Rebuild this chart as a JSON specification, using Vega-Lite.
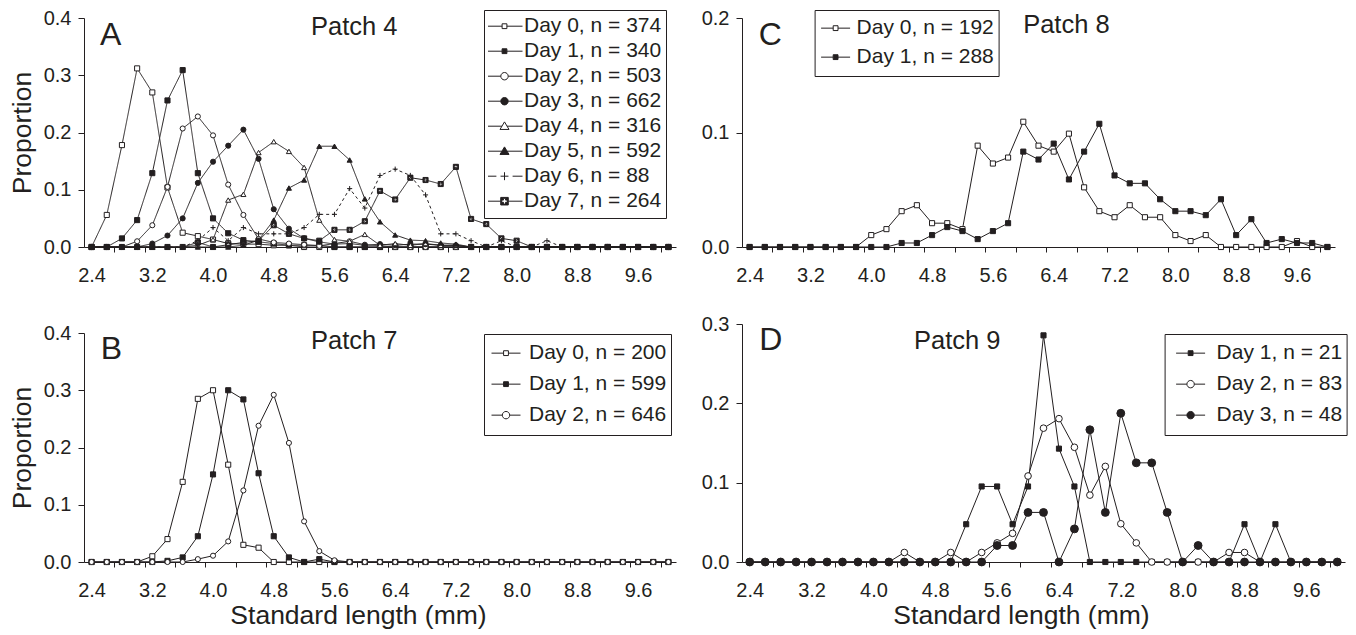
{
"$schema":"https://vega.github.io/schema/vega-lite/v6.json",
"background":"white",
"padding":{"left":9,"top":8,"right":2,"bottom":2},
"config":{
 "font":"Liberation Sans",
 "view":{"stroke":null},
 "axis":{"grid":false,"domainColor":"#231f20","tickColor":"#231f20","labelColor":"#231f20","titleColor":"#231f20","labelFontSize":20,"titleFontSize":26.5,"titleFontWeight":"normal","domainWidth":1,"tickWidth":1,"labelFlush":false},
 "axisX":{"tickSize":5,"labelPadding":18,"titlePadding":2},
 "axisY":{"tickSize":6,"labelPadding":7,"titlePadding":7},
 "legend":{"strokeColor":"#231f20","fillColor":"white","labelFontSize":21,"labelColor":"#231f20","symbolStrokeWidth":1,"rowPadding":0,"padding":4,"symbolStrokeColor":"#231f20","symbolFillColor":"white","symbolOpacity":1},
 "text":{"color":"#231f20"}
},
"datasets":{
"patch4":[
{"day":"Day 0, n = 374","length":2.4,"prop":0},{"day":"Day 0, n = 374","length":2.6,"prop":0.056},{"day":"Day 0, n = 374","length":2.8,"prop":0.178},{"day":"Day 0, n = 374","length":3,"prop":0.312},{"day":"Day 0, n = 374","length":3.2,"prop":0.27},{"day":"Day 0, n = 374","length":3.4,"prop":0.104},{"day":"Day 0, n = 374","length":3.6,"prop":0.025},{"day":"Day 0, n = 374","length":3.8,"prop":0.019},{"day":"Day 0, n = 374","length":4,"prop":0.013},{"day":"Day 0, n = 374","length":4.2,"prop":0.006},{"day":"Day 0, n = 374","length":4.4,"prop":0.005},{"day":"Day 0, n = 374","length":4.6,"prop":0.005},{"day":"Day 0, n = 374","length":4.8,"prop":0.003},{"day":"Day 0, n = 374","length":5,"prop":0.003},{"day":"Day 0, n = 374","length":5.2,"prop":0},{"day":"Day 0, n = 374","length":5.4,"prop":0},{"day":"Day 0, n = 374","length":5.6,"prop":0},{"day":"Day 0, n = 374","length":5.8,"prop":0},{"day":"Day 0, n = 374","length":6,"prop":0},{"day":"Day 0, n = 374","length":6.2,"prop":0},{"day":"Day 0, n = 374","length":6.4,"prop":0},{"day":"Day 0, n = 374","length":6.6,"prop":0},{"day":"Day 0, n = 374","length":6.8,"prop":0},{"day":"Day 0, n = 374","length":7,"prop":0},{"day":"Day 0, n = 374","length":7.2,"prop":0},{"day":"Day 0, n = 374","length":7.4,"prop":0},{"day":"Day 0, n = 374","length":7.6,"prop":0},{"day":"Day 0, n = 374","length":7.8,"prop":0},{"day":"Day 0, n = 374","length":8,"prop":0},{"day":"Day 0, n = 374","length":8.2,"prop":0},{"day":"Day 0, n = 374","length":8.4,"prop":0},{"day":"Day 0, n = 374","length":8.6,"prop":0},{"day":"Day 0, n = 374","length":8.8,"prop":0},{"day":"Day 0, n = 374","length":9,"prop":0},{"day":"Day 0, n = 374","length":9.2,"prop":0},{"day":"Day 0, n = 374","length":9.4,"prop":0},{"day":"Day 0, n = 374","length":9.6,"prop":0},{"day":"Day 0, n = 374","length":9.8,"prop":0},{"day":"Day 0, n = 374","length":10,"prop":0},
{"day":"Day 1, n = 340","length":2.4,"prop":0},{"day":"Day 1, n = 340","length":2.6,"prop":0},{"day":"Day 1, n = 340","length":2.8,"prop":0.015},{"day":"Day 1, n = 340","length":3,"prop":0.047},{"day":"Day 1, n = 340","length":3.2,"prop":0.129},{"day":"Day 1, n = 340","length":3.4,"prop":0.256},{"day":"Day 1, n = 340","length":3.6,"prop":0.309},{"day":"Day 1, n = 340","length":3.8,"prop":0.129},{"day":"Day 1, n = 340","length":4,"prop":0.05},{"day":"Day 1, n = 340","length":4.2,"prop":0.024},{"day":"Day 1, n = 340","length":4.4,"prop":0.012},{"day":"Day 1, n = 340","length":4.6,"prop":0.009},{"day":"Day 1, n = 340","length":4.8,"prop":0.006},{"day":"Day 1, n = 340","length":5,"prop":0.003},{"day":"Day 1, n = 340","length":5.2,"prop":0.003},{"day":"Day 1, n = 340","length":5.4,"prop":0.003},{"day":"Day 1, n = 340","length":5.6,"prop":0},{"day":"Day 1, n = 340","length":5.8,"prop":0},{"day":"Day 1, n = 340","length":6,"prop":0},{"day":"Day 1, n = 340","length":6.2,"prop":0},{"day":"Day 1, n = 340","length":6.4,"prop":0},{"day":"Day 1, n = 340","length":6.6,"prop":0},{"day":"Day 1, n = 340","length":6.8,"prop":0},{"day":"Day 1, n = 340","length":7,"prop":0},{"day":"Day 1, n = 340","length":7.2,"prop":0},{"day":"Day 1, n = 340","length":7.4,"prop":0},{"day":"Day 1, n = 340","length":7.6,"prop":0},{"day":"Day 1, n = 340","length":7.8,"prop":0},{"day":"Day 1, n = 340","length":8,"prop":0},{"day":"Day 1, n = 340","length":8.2,"prop":0},{"day":"Day 1, n = 340","length":8.4,"prop":0},{"day":"Day 1, n = 340","length":8.6,"prop":0},{"day":"Day 1, n = 340","length":8.8,"prop":0},{"day":"Day 1, n = 340","length":9,"prop":0},{"day":"Day 1, n = 340","length":9.2,"prop":0},{"day":"Day 1, n = 340","length":9.4,"prop":0},{"day":"Day 1, n = 340","length":9.6,"prop":0},{"day":"Day 1, n = 340","length":9.8,"prop":0},{"day":"Day 1, n = 340","length":10,"prop":0},
{"day":"Day 2, n = 503","length":2.4,"prop":0},{"day":"Day 2, n = 503","length":2.6,"prop":0},{"day":"Day 2, n = 503","length":2.8,"prop":0},{"day":"Day 2, n = 503","length":3,"prop":0.01},{"day":"Day 2, n = 503","length":3.2,"prop":0.038},{"day":"Day 2, n = 503","length":3.4,"prop":0.105},{"day":"Day 2, n = 503","length":3.6,"prop":0.207},{"day":"Day 2, n = 503","length":3.8,"prop":0.228},{"day":"Day 2, n = 503","length":4,"prop":0.195},{"day":"Day 2, n = 503","length":4.2,"prop":0.109},{"day":"Day 2, n = 503","length":4.4,"prop":0.056},{"day":"Day 2, n = 503","length":4.6,"prop":0.014},{"day":"Day 2, n = 503","length":4.8,"prop":0.008},{"day":"Day 2, n = 503","length":5,"prop":0.006},{"day":"Day 2, n = 503","length":5.2,"prop":0.004},{"day":"Day 2, n = 503","length":5.4,"prop":0.002},{"day":"Day 2, n = 503","length":5.6,"prop":0.006},{"day":"Day 2, n = 503","length":5.8,"prop":0.01},{"day":"Day 2, n = 503","length":6,"prop":0.004},{"day":"Day 2, n = 503","length":6.2,"prop":0.002},{"day":"Day 2, n = 503","length":6.4,"prop":0},{"day":"Day 2, n = 503","length":6.6,"prop":0},{"day":"Day 2, n = 503","length":6.8,"prop":0},{"day":"Day 2, n = 503","length":7,"prop":0},{"day":"Day 2, n = 503","length":7.2,"prop":0},{"day":"Day 2, n = 503","length":7.4,"prop":0},{"day":"Day 2, n = 503","length":7.6,"prop":0},{"day":"Day 2, n = 503","length":7.8,"prop":0},{"day":"Day 2, n = 503","length":8,"prop":0},{"day":"Day 2, n = 503","length":8.2,"prop":0},{"day":"Day 2, n = 503","length":8.4,"prop":0},{"day":"Day 2, n = 503","length":8.6,"prop":0},{"day":"Day 2, n = 503","length":8.8,"prop":0},{"day":"Day 2, n = 503","length":9,"prop":0},{"day":"Day 2, n = 503","length":9.2,"prop":0},{"day":"Day 2, n = 503","length":9.4,"prop":0},{"day":"Day 2, n = 503","length":9.6,"prop":0},{"day":"Day 2, n = 503","length":9.8,"prop":0},{"day":"Day 2, n = 503","length":10,"prop":0},
{"day":"Day 3, n = 662","length":2.4,"prop":0},{"day":"Day 3, n = 662","length":2.6,"prop":0},{"day":"Day 3, n = 662","length":2.8,"prop":0},{"day":"Day 3, n = 662","length":3,"prop":0},{"day":"Day 3, n = 662","length":3.2,"prop":0.006},{"day":"Day 3, n = 662","length":3.4,"prop":0.02},{"day":"Day 3, n = 662","length":3.6,"prop":0.05},{"day":"Day 3, n = 662","length":3.8,"prop":0.112},{"day":"Day 3, n = 662","length":4,"prop":0.149},{"day":"Day 3, n = 662","length":4.2,"prop":0.177},{"day":"Day 3, n = 662","length":4.4,"prop":0.205},{"day":"Day 3, n = 662","length":4.6,"prop":0.154},{"day":"Day 3, n = 662","length":4.8,"prop":0.066},{"day":"Day 3, n = 662","length":5,"prop":0.032},{"day":"Day 3, n = 662","length":5.2,"prop":0.015},{"day":"Day 3, n = 662","length":5.4,"prop":0.009},{"day":"Day 3, n = 662","length":5.6,"prop":0.005},{"day":"Day 3, n = 662","length":5.8,"prop":0.006},{"day":"Day 3, n = 662","length":6,"prop":0.003},{"day":"Day 3, n = 662","length":6.2,"prop":0.005},{"day":"Day 3, n = 662","length":6.4,"prop":0.003},{"day":"Day 3, n = 662","length":6.6,"prop":0.005},{"day":"Day 3, n = 662","length":6.8,"prop":0.005},{"day":"Day 3, n = 662","length":7,"prop":0.003},{"day":"Day 3, n = 662","length":7.2,"prop":0.003},{"day":"Day 3, n = 662","length":7.4,"prop":0},{"day":"Day 3, n = 662","length":7.6,"prop":0},{"day":"Day 3, n = 662","length":7.8,"prop":0},{"day":"Day 3, n = 662","length":8,"prop":0},{"day":"Day 3, n = 662","length":8.2,"prop":0},{"day":"Day 3, n = 662","length":8.4,"prop":0},{"day":"Day 3, n = 662","length":8.6,"prop":0},{"day":"Day 3, n = 662","length":8.8,"prop":0},{"day":"Day 3, n = 662","length":9,"prop":0},{"day":"Day 3, n = 662","length":9.2,"prop":0},{"day":"Day 3, n = 662","length":9.4,"prop":0},{"day":"Day 3, n = 662","length":9.6,"prop":0},{"day":"Day 3, n = 662","length":9.8,"prop":0},{"day":"Day 3, n = 662","length":10,"prop":0},
{"day":"Day 4, n = 316","length":2.4,"prop":0},{"day":"Day 4, n = 316","length":2.6,"prop":0},{"day":"Day 4, n = 316","length":2.8,"prop":0},{"day":"Day 4, n = 316","length":3,"prop":0},{"day":"Day 4, n = 316","length":3.2,"prop":0},{"day":"Day 4, n = 316","length":3.4,"prop":0},{"day":"Day 4, n = 316","length":3.6,"prop":0},{"day":"Day 4, n = 316","length":3.8,"prop":0.003},{"day":"Day 4, n = 316","length":4,"prop":0.013},{"day":"Day 4, n = 316","length":4.2,"prop":0.082},{"day":"Day 4, n = 316","length":4.4,"prop":0.092},{"day":"Day 4, n = 316","length":4.6,"prop":0.165},{"day":"Day 4, n = 316","length":4.8,"prop":0.184},{"day":"Day 4, n = 316","length":5,"prop":0.167},{"day":"Day 4, n = 316","length":5.2,"prop":0.139},{"day":"Day 4, n = 316","length":5.4,"prop":0.047},{"day":"Day 4, n = 316","length":5.6,"prop":0.013},{"day":"Day 4, n = 316","length":5.8,"prop":0.01},{"day":"Day 4, n = 316","length":6,"prop":0.022},{"day":"Day 4, n = 316","length":6.2,"prop":0.003},{"day":"Day 4, n = 316","length":6.4,"prop":0.006},{"day":"Day 4, n = 316","length":6.6,"prop":0.003},{"day":"Day 4, n = 316","length":6.8,"prop":0.006},{"day":"Day 4, n = 316","length":7,"prop":0.003},{"day":"Day 4, n = 316","length":7.2,"prop":0.003},{"day":"Day 4, n = 316","length":7.4,"prop":0},{"day":"Day 4, n = 316","length":7.6,"prop":0},{"day":"Day 4, n = 316","length":7.8,"prop":0},{"day":"Day 4, n = 316","length":8,"prop":0},{"day":"Day 4, n = 316","length":8.2,"prop":0},{"day":"Day 4, n = 316","length":8.4,"prop":0},{"day":"Day 4, n = 316","length":8.6,"prop":0},{"day":"Day 4, n = 316","length":8.8,"prop":0},{"day":"Day 4, n = 316","length":9,"prop":0},{"day":"Day 4, n = 316","length":9.2,"prop":0},{"day":"Day 4, n = 316","length":9.4,"prop":0},{"day":"Day 4, n = 316","length":9.6,"prop":0},{"day":"Day 4, n = 316","length":9.8,"prop":0},{"day":"Day 4, n = 316","length":10,"prop":0},
{"day":"Day 5, n = 592","length":2.4,"prop":0},{"day":"Day 5, n = 592","length":2.6,"prop":0},{"day":"Day 5, n = 592","length":2.8,"prop":0},{"day":"Day 5, n = 592","length":3,"prop":0},{"day":"Day 5, n = 592","length":3.2,"prop":0},{"day":"Day 5, n = 592","length":3.4,"prop":0},{"day":"Day 5, n = 592","length":3.6,"prop":0},{"day":"Day 5, n = 592","length":3.8,"prop":0},{"day":"Day 5, n = 592","length":4,"prop":0},{"day":"Day 5, n = 592","length":4.2,"prop":0},{"day":"Day 5, n = 592","length":4.4,"prop":0.003},{"day":"Day 5, n = 592","length":4.6,"prop":0.012},{"day":"Day 5, n = 592","length":4.8,"prop":0.047},{"day":"Day 5, n = 592","length":5,"prop":0.103},{"day":"Day 5, n = 592","length":5.2,"prop":0.117},{"day":"Day 5, n = 592","length":5.4,"prop":0.176},{"day":"Day 5, n = 592","length":5.6,"prop":0.176},{"day":"Day 5, n = 592","length":5.8,"prop":0.152},{"day":"Day 5, n = 592","length":6,"prop":0.084},{"day":"Day 5, n = 592","length":6.2,"prop":0.044},{"day":"Day 5, n = 592","length":6.4,"prop":0.021},{"day":"Day 5, n = 592","length":6.6,"prop":0.012},{"day":"Day 5, n = 592","length":6.8,"prop":0.011},{"day":"Day 5, n = 592","length":7,"prop":0.007},{"day":"Day 5, n = 592","length":7.2,"prop":0.005},{"day":"Day 5, n = 592","length":7.4,"prop":0},{"day":"Day 5, n = 592","length":7.6,"prop":0},{"day":"Day 5, n = 592","length":7.8,"prop":0},{"day":"Day 5, n = 592","length":8,"prop":0},{"day":"Day 5, n = 592","length":8.2,"prop":0},{"day":"Day 5, n = 592","length":8.4,"prop":0},{"day":"Day 5, n = 592","length":8.6,"prop":0},{"day":"Day 5, n = 592","length":8.8,"prop":0},{"day":"Day 5, n = 592","length":9,"prop":0},{"day":"Day 5, n = 592","length":9.2,"prop":0},{"day":"Day 5, n = 592","length":9.4,"prop":0},{"day":"Day 5, n = 592","length":9.6,"prop":0},{"day":"Day 5, n = 592","length":9.8,"prop":0},{"day":"Day 5, n = 592","length":10,"prop":0},
{"day":"Day 6, n = 88","length":2.4,"prop":0},{"day":"Day 6, n = 88","length":2.6,"prop":0},{"day":"Day 6, n = 88","length":2.8,"prop":0},{"day":"Day 6, n = 88","length":3,"prop":0},{"day":"Day 6, n = 88","length":3.2,"prop":0},{"day":"Day 6, n = 88","length":3.4,"prop":0},{"day":"Day 6, n = 88","length":3.6,"prop":0},{"day":"Day 6, n = 88","length":3.8,"prop":0.011},{"day":"Day 6, n = 88","length":4,"prop":0.034},{"day":"Day 6, n = 88","length":4.2,"prop":0.011},{"day":"Day 6, n = 88","length":4.4,"prop":0.034},{"day":"Day 6, n = 88","length":4.6,"prop":0.023},{"day":"Day 6, n = 88","length":4.8,"prop":0.023},{"day":"Day 6, n = 88","length":5,"prop":0.023},{"day":"Day 6, n = 88","length":5.2,"prop":0.034},{"day":"Day 6, n = 88","length":5.4,"prop":0.057},{"day":"Day 6, n = 88","length":5.6,"prop":0.057},{"day":"Day 6, n = 88","length":5.8,"prop":0.102},{"day":"Day 6, n = 88","length":6,"prop":0.068},{"day":"Day 6, n = 88","length":6.2,"prop":0.125},{"day":"Day 6, n = 88","length":6.4,"prop":0.136},{"day":"Day 6, n = 88","length":6.6,"prop":0.125},{"day":"Day 6, n = 88","length":6.8,"prop":0.091},{"day":"Day 6, n = 88","length":7,"prop":0.023},{"day":"Day 6, n = 88","length":7.2,"prop":0.023},{"day":"Day 6, n = 88","length":7.4,"prop":0.011},{"day":"Day 6, n = 88","length":7.6,"prop":0},{"day":"Day 6, n = 88","length":7.8,"prop":0.011},{"day":"Day 6, n = 88","length":8,"prop":0},{"day":"Day 6, n = 88","length":8.2,"prop":0},{"day":"Day 6, n = 88","length":8.4,"prop":0.011},{"day":"Day 6, n = 88","length":8.6,"prop":0},{"day":"Day 6, n = 88","length":8.8,"prop":0},{"day":"Day 6, n = 88","length":9,"prop":0},{"day":"Day 6, n = 88","length":9.2,"prop":0},{"day":"Day 6, n = 88","length":9.4,"prop":0},{"day":"Day 6, n = 88","length":9.6,"prop":0},{"day":"Day 6, n = 88","length":9.8,"prop":0},{"day":"Day 6, n = 88","length":10,"prop":0},
{"day":"Day 7, n = 264","length":2.4,"prop":0},{"day":"Day 7, n = 264","length":2.6,"prop":0},{"day":"Day 7, n = 264","length":2.8,"prop":0},{"day":"Day 7, n = 264","length":3,"prop":0},{"day":"Day 7, n = 264","length":3.2,"prop":0},{"day":"Day 7, n = 264","length":3.4,"prop":0},{"day":"Day 7, n = 264","length":3.6,"prop":0},{"day":"Day 7, n = 264","length":3.8,"prop":0.008},{"day":"Day 7, n = 264","length":4,"prop":0},{"day":"Day 7, n = 264","length":4.2,"prop":0.004},{"day":"Day 7, n = 264","length":4.4,"prop":0.008},{"day":"Day 7, n = 264","length":4.6,"prop":0.011},{"day":"Day 7, n = 264","length":4.8,"prop":0.038},{"day":"Day 7, n = 264","length":5,"prop":0.023},{"day":"Day 7, n = 264","length":5.2,"prop":0.015},{"day":"Day 7, n = 264","length":5.4,"prop":0.011},{"day":"Day 7, n = 264","length":5.6,"prop":0.03},{"day":"Day 7, n = 264","length":5.8,"prop":0.03},{"day":"Day 7, n = 264","length":6,"prop":0.045},{"day":"Day 7, n = 264","length":6.2,"prop":0.098},{"day":"Day 7, n = 264","length":6.4,"prop":0.083},{"day":"Day 7, n = 264","length":6.6,"prop":0.121},{"day":"Day 7, n = 264","length":6.8,"prop":0.117},{"day":"Day 7, n = 264","length":7,"prop":0.11},{"day":"Day 7, n = 264","length":7.2,"prop":0.14},{"day":"Day 7, n = 264","length":7.4,"prop":0.049},{"day":"Day 7, n = 264","length":7.6,"prop":0.04},{"day":"Day 7, n = 264","length":7.8,"prop":0.015},{"day":"Day 7, n = 264","length":8,"prop":0.011},{"day":"Day 7, n = 264","length":8.2,"prop":0},{"day":"Day 7, n = 264","length":8.4,"prop":0},{"day":"Day 7, n = 264","length":8.6,"prop":0},{"day":"Day 7, n = 264","length":8.8,"prop":0},{"day":"Day 7, n = 264","length":9,"prop":0},{"day":"Day 7, n = 264","length":9.2,"prop":0},{"day":"Day 7, n = 264","length":9.4,"prop":0},{"day":"Day 7, n = 264","length":9.6,"prop":0},{"day":"Day 7, n = 264","length":9.8,"prop":0},{"day":"Day 7, n = 264","length":10,"prop":0}
],
"patch7":[
{"day":"Day 0, n = 200","length":2.4,"prop":0},{"day":"Day 0, n = 200","length":2.6,"prop":0},{"day":"Day 0, n = 200","length":2.8,"prop":0},{"day":"Day 0, n = 200","length":3,"prop":0},{"day":"Day 0, n = 200","length":3.2,"prop":0.01},{"day":"Day 0, n = 200","length":3.4,"prop":0.04},{"day":"Day 0, n = 200","length":3.6,"prop":0.14},{"day":"Day 0, n = 200","length":3.8,"prop":0.285},{"day":"Day 0, n = 200","length":4,"prop":0.3},{"day":"Day 0, n = 200","length":4.2,"prop":0.17},{"day":"Day 0, n = 200","length":4.4,"prop":0.03},{"day":"Day 0, n = 200","length":4.6,"prop":0.025},{"day":"Day 0, n = 200","length":4.8,"prop":0},{"day":"Day 0, n = 200","length":5,"prop":0},{"day":"Day 0, n = 200","length":5.2,"prop":0},{"day":"Day 0, n = 200","length":5.4,"prop":0},{"day":"Day 0, n = 200","length":5.6,"prop":0},{"day":"Day 0, n = 200","length":5.8,"prop":0},{"day":"Day 0, n = 200","length":6,"prop":0},{"day":"Day 0, n = 200","length":6.2,"prop":0},{"day":"Day 0, n = 200","length":6.4,"prop":0},{"day":"Day 0, n = 200","length":6.6,"prop":0},{"day":"Day 0, n = 200","length":6.8,"prop":0},{"day":"Day 0, n = 200","length":7,"prop":0},{"day":"Day 0, n = 200","length":7.2,"prop":0},{"day":"Day 0, n = 200","length":7.4,"prop":0},{"day":"Day 0, n = 200","length":7.6,"prop":0},{"day":"Day 0, n = 200","length":7.8,"prop":0},{"day":"Day 0, n = 200","length":8,"prop":0},{"day":"Day 0, n = 200","length":8.2,"prop":0},{"day":"Day 0, n = 200","length":8.4,"prop":0},{"day":"Day 0, n = 200","length":8.6,"prop":0},{"day":"Day 0, n = 200","length":8.8,"prop":0},{"day":"Day 0, n = 200","length":9,"prop":0},{"day":"Day 0, n = 200","length":9.2,"prop":0},{"day":"Day 0, n = 200","length":9.4,"prop":0},{"day":"Day 0, n = 200","length":9.6,"prop":0},{"day":"Day 0, n = 200","length":9.8,"prop":0},{"day":"Day 0, n = 200","length":10,"prop":0},
{"day":"Day 1, n = 599","length":2.4,"prop":0},{"day":"Day 1, n = 599","length":2.6,"prop":0},{"day":"Day 1, n = 599","length":2.8,"prop":0},{"day":"Day 1, n = 599","length":3,"prop":0},{"day":"Day 1, n = 599","length":3.2,"prop":0},{"day":"Day 1, n = 599","length":3.4,"prop":0.002},{"day":"Day 1, n = 599","length":3.6,"prop":0.008},{"day":"Day 1, n = 599","length":3.8,"prop":0.045},{"day":"Day 1, n = 599","length":4,"prop":0.153},{"day":"Day 1, n = 599","length":4.2,"prop":0.3},{"day":"Day 1, n = 599","length":4.4,"prop":0.284},{"day":"Day 1, n = 599","length":4.6,"prop":0.155},{"day":"Day 1, n = 599","length":4.8,"prop":0.045},{"day":"Day 1, n = 599","length":5,"prop":0.008},{"day":"Day 1, n = 599","length":5.2,"prop":0},{"day":"Day 1, n = 599","length":5.4,"prop":0.005},{"day":"Day 1, n = 599","length":5.6,"prop":0},{"day":"Day 1, n = 599","length":5.8,"prop":0},{"day":"Day 1, n = 599","length":6,"prop":0},{"day":"Day 1, n = 599","length":6.2,"prop":0},{"day":"Day 1, n = 599","length":6.4,"prop":0},{"day":"Day 1, n = 599","length":6.6,"prop":0},{"day":"Day 1, n = 599","length":6.8,"prop":0},{"day":"Day 1, n = 599","length":7,"prop":0},{"day":"Day 1, n = 599","length":7.2,"prop":0},{"day":"Day 1, n = 599","length":7.4,"prop":0},{"day":"Day 1, n = 599","length":7.6,"prop":0},{"day":"Day 1, n = 599","length":7.8,"prop":0},{"day":"Day 1, n = 599","length":8,"prop":0},{"day":"Day 1, n = 599","length":8.2,"prop":0},{"day":"Day 1, n = 599","length":8.4,"prop":0},{"day":"Day 1, n = 599","length":8.6,"prop":0},{"day":"Day 1, n = 599","length":8.8,"prop":0},{"day":"Day 1, n = 599","length":9,"prop":0},{"day":"Day 1, n = 599","length":9.2,"prop":0},{"day":"Day 1, n = 599","length":9.4,"prop":0},{"day":"Day 1, n = 599","length":9.6,"prop":0},{"day":"Day 1, n = 599","length":9.8,"prop":0},{"day":"Day 1, n = 599","length":10,"prop":0},
{"day":"Day 2, n = 646","length":2.4,"prop":0},{"day":"Day 2, n = 646","length":2.6,"prop":0},{"day":"Day 2, n = 646","length":2.8,"prop":0},{"day":"Day 2, n = 646","length":3,"prop":0},{"day":"Day 2, n = 646","length":3.2,"prop":0},{"day":"Day 2, n = 646","length":3.4,"prop":0},{"day":"Day 2, n = 646","length":3.6,"prop":0},{"day":"Day 2, n = 646","length":3.8,"prop":0.005},{"day":"Day 2, n = 646","length":4,"prop":0.011},{"day":"Day 2, n = 646","length":4.2,"prop":0.036},{"day":"Day 2, n = 646","length":4.4,"prop":0.125},{"day":"Day 2, n = 646","length":4.6,"prop":0.238},{"day":"Day 2, n = 646","length":4.8,"prop":0.292},{"day":"Day 2, n = 646","length":5,"prop":0.208},{"day":"Day 2, n = 646","length":5.2,"prop":0.071},{"day":"Day 2, n = 646","length":5.4,"prop":0.019},{"day":"Day 2, n = 646","length":5.6,"prop":0.003},{"day":"Day 2, n = 646","length":5.8,"prop":0},{"day":"Day 2, n = 646","length":6,"prop":0},{"day":"Day 2, n = 646","length":6.2,"prop":0},{"day":"Day 2, n = 646","length":6.4,"prop":0},{"day":"Day 2, n = 646","length":6.6,"prop":0},{"day":"Day 2, n = 646","length":6.8,"prop":0},{"day":"Day 2, n = 646","length":7,"prop":0},{"day":"Day 2, n = 646","length":7.2,"prop":0},{"day":"Day 2, n = 646","length":7.4,"prop":0},{"day":"Day 2, n = 646","length":7.6,"prop":0},{"day":"Day 2, n = 646","length":7.8,"prop":0},{"day":"Day 2, n = 646","length":8,"prop":0},{"day":"Day 2, n = 646","length":8.2,"prop":0},{"day":"Day 2, n = 646","length":8.4,"prop":0},{"day":"Day 2, n = 646","length":8.6,"prop":0},{"day":"Day 2, n = 646","length":8.8,"prop":0},{"day":"Day 2, n = 646","length":9,"prop":0},{"day":"Day 2, n = 646","length":9.2,"prop":0},{"day":"Day 2, n = 646","length":9.4,"prop":0},{"day":"Day 2, n = 646","length":9.6,"prop":0},{"day":"Day 2, n = 646","length":9.8,"prop":0},{"day":"Day 2, n = 646","length":10,"prop":0}
],
"patch8":[
{"day":"Day 0, n = 192","length":2.4,"prop":0},{"day":"Day 0, n = 192","length":2.6,"prop":0},{"day":"Day 0, n = 192","length":2.8,"prop":0},{"day":"Day 0, n = 192","length":3,"prop":0},{"day":"Day 0, n = 192","length":3.2,"prop":0},{"day":"Day 0, n = 192","length":3.4,"prop":0},{"day":"Day 0, n = 192","length":3.6,"prop":0},{"day":"Day 0, n = 192","length":3.8,"prop":0},{"day":"Day 0, n = 192","length":4,"prop":0.0104},{"day":"Day 0, n = 192","length":4.2,"prop":0.0156},{"day":"Day 0, n = 192","length":4.4,"prop":0.0313},{"day":"Day 0, n = 192","length":4.6,"prop":0.0365},{"day":"Day 0, n = 192","length":4.8,"prop":0.0208},{"day":"Day 0, n = 192","length":5,"prop":0.0208},{"day":"Day 0, n = 192","length":5.2,"prop":0.0156},{"day":"Day 0, n = 192","length":5.4,"prop":0.0885},{"day":"Day 0, n = 192","length":5.6,"prop":0.0729},{"day":"Day 0, n = 192","length":5.8,"prop":0.0781},{"day":"Day 0, n = 192","length":6,"prop":0.1094},{"day":"Day 0, n = 192","length":6.2,"prop":0.0885},{"day":"Day 0, n = 192","length":6.4,"prop":0.0833},{"day":"Day 0, n = 192","length":6.6,"prop":0.099},{"day":"Day 0, n = 192","length":6.8,"prop":0.0521},{"day":"Day 0, n = 192","length":7,"prop":0.0313},{"day":"Day 0, n = 192","length":7.2,"prop":0.026},{"day":"Day 0, n = 192","length":7.4,"prop":0.0365},{"day":"Day 0, n = 192","length":7.6,"prop":0.026},{"day":"Day 0, n = 192","length":7.8,"prop":0.026},{"day":"Day 0, n = 192","length":8,"prop":0.0104},{"day":"Day 0, n = 192","length":8.2,"prop":0.0052},{"day":"Day 0, n = 192","length":8.4,"prop":0.0104},{"day":"Day 0, n = 192","length":8.6,"prop":0},{"day":"Day 0, n = 192","length":8.8,"prop":0},{"day":"Day 0, n = 192","length":9,"prop":0},{"day":"Day 0, n = 192","length":9.2,"prop":0},{"day":"Day 0, n = 192","length":9.4,"prop":0},{"day":"Day 0, n = 192","length":9.6,"prop":0.0052},{"day":"Day 0, n = 192","length":9.8,"prop":0},{"day":"Day 0, n = 192","length":10,"prop":0},
{"day":"Day 1, n = 288","length":2.4,"prop":0},{"day":"Day 1, n = 288","length":2.6,"prop":0},{"day":"Day 1, n = 288","length":2.8,"prop":0},{"day":"Day 1, n = 288","length":3,"prop":0},{"day":"Day 1, n = 288","length":3.2,"prop":0},{"day":"Day 1, n = 288","length":3.4,"prop":0},{"day":"Day 1, n = 288","length":3.6,"prop":0},{"day":"Day 1, n = 288","length":3.8,"prop":0},{"day":"Day 1, n = 288","length":4,"prop":0},{"day":"Day 1, n = 288","length":4.2,"prop":0},{"day":"Day 1, n = 288","length":4.4,"prop":0.0035},{"day":"Day 1, n = 288","length":4.6,"prop":0.0035},{"day":"Day 1, n = 288","length":4.8,"prop":0.0104},{"day":"Day 1, n = 288","length":5,"prop":0.0174},{"day":"Day 1, n = 288","length":5.2,"prop":0.0139},{"day":"Day 1, n = 288","length":5.4,"prop":0.0069},{"day":"Day 1, n = 288","length":5.6,"prop":0.0139},{"day":"Day 1, n = 288","length":5.8,"prop":0.0208},{"day":"Day 1, n = 288","length":6,"prop":0.0833},{"day":"Day 1, n = 288","length":6.2,"prop":0.0764},{"day":"Day 1, n = 288","length":6.4,"prop":0.0903},{"day":"Day 1, n = 288","length":6.6,"prop":0.059},{"day":"Day 1, n = 288","length":6.8,"prop":0.0833},{"day":"Day 1, n = 288","length":7,"prop":0.1076},{"day":"Day 1, n = 288","length":7.2,"prop":0.0625},{"day":"Day 1, n = 288","length":7.4,"prop":0.0556},{"day":"Day 1, n = 288","length":7.6,"prop":0.0556},{"day":"Day 1, n = 288","length":7.8,"prop":0.0417},{"day":"Day 1, n = 288","length":8,"prop":0.0313},{"day":"Day 1, n = 288","length":8.2,"prop":0.0313},{"day":"Day 1, n = 288","length":8.4,"prop":0.0278},{"day":"Day 1, n = 288","length":8.6,"prop":0.0417},{"day":"Day 1, n = 288","length":8.8,"prop":0.0104},{"day":"Day 1, n = 288","length":9,"prop":0.0243},{"day":"Day 1, n = 288","length":9.2,"prop":0.0035},{"day":"Day 1, n = 288","length":9.4,"prop":0.0069},{"day":"Day 1, n = 288","length":9.6,"prop":0.0035},{"day":"Day 1, n = 288","length":9.8,"prop":0.0035},{"day":"Day 1, n = 288","length":10,"prop":0}
],
"patch9":[
{"day":"Day 1, n = 21","length":2.4,"prop":0},{"day":"Day 1, n = 21","length":2.6,"prop":0},{"day":"Day 1, n = 21","length":2.8,"prop":0},{"day":"Day 1, n = 21","length":3,"prop":0},{"day":"Day 1, n = 21","length":3.2,"prop":0},{"day":"Day 1, n = 21","length":3.4,"prop":0},{"day":"Day 1, n = 21","length":3.6,"prop":0},{"day":"Day 1, n = 21","length":3.8,"prop":0},{"day":"Day 1, n = 21","length":4,"prop":0},{"day":"Day 1, n = 21","length":4.2,"prop":0},{"day":"Day 1, n = 21","length":4.4,"prop":0},{"day":"Day 1, n = 21","length":4.6,"prop":0},{"day":"Day 1, n = 21","length":4.8,"prop":0},{"day":"Day 1, n = 21","length":5,"prop":0},{"day":"Day 1, n = 21","length":5.2,"prop":0.0476},{"day":"Day 1, n = 21","length":5.4,"prop":0.0952},{"day":"Day 1, n = 21","length":5.6,"prop":0.0952},{"day":"Day 1, n = 21","length":5.8,"prop":0.0476},{"day":"Day 1, n = 21","length":6,"prop":0.0952},{"day":"Day 1, n = 21","length":6.2,"prop":0.2857},{"day":"Day 1, n = 21","length":6.4,"prop":0.1429},{"day":"Day 1, n = 21","length":6.6,"prop":0.0952},{"day":"Day 1, n = 21","length":6.8,"prop":0},{"day":"Day 1, n = 21","length":7,"prop":0},{"day":"Day 1, n = 21","length":7.2,"prop":0},{"day":"Day 1, n = 21","length":7.4,"prop":0},{"day":"Day 1, n = 21","length":7.6,"prop":0},{"day":"Day 1, n = 21","length":7.8,"prop":0},{"day":"Day 1, n = 21","length":8,"prop":0},{"day":"Day 1, n = 21","length":8.2,"prop":0},{"day":"Day 1, n = 21","length":8.4,"prop":0},{"day":"Day 1, n = 21","length":8.6,"prop":0},{"day":"Day 1, n = 21","length":8.8,"prop":0.0476},{"day":"Day 1, n = 21","length":9,"prop":0},{"day":"Day 1, n = 21","length":9.2,"prop":0.0476},{"day":"Day 1, n = 21","length":9.4,"prop":0},{"day":"Day 1, n = 21","length":9.6,"prop":0},{"day":"Day 1, n = 21","length":9.8,"prop":0},{"day":"Day 1, n = 21","length":10,"prop":0},
{"day":"Day 2, n = 83","length":2.4,"prop":0},{"day":"Day 2, n = 83","length":2.6,"prop":0},{"day":"Day 2, n = 83","length":2.8,"prop":0},{"day":"Day 2, n = 83","length":3,"prop":0},{"day":"Day 2, n = 83","length":3.2,"prop":0},{"day":"Day 2, n = 83","length":3.4,"prop":0},{"day":"Day 2, n = 83","length":3.6,"prop":0},{"day":"Day 2, n = 83","length":3.8,"prop":0},{"day":"Day 2, n = 83","length":4,"prop":0},{"day":"Day 2, n = 83","length":4.2,"prop":0},{"day":"Day 2, n = 83","length":4.4,"prop":0.012},{"day":"Day 2, n = 83","length":4.6,"prop":0},{"day":"Day 2, n = 83","length":4.8,"prop":0},{"day":"Day 2, n = 83","length":5,"prop":0.012},{"day":"Day 2, n = 83","length":5.2,"prop":0},{"day":"Day 2, n = 83","length":5.4,"prop":0.012},{"day":"Day 2, n = 83","length":5.6,"prop":0.0241},{"day":"Day 2, n = 83","length":5.8,"prop":0.0361},{"day":"Day 2, n = 83","length":6,"prop":0.1084},{"day":"Day 2, n = 83","length":6.2,"prop":0.1687},{"day":"Day 2, n = 83","length":6.4,"prop":0.1807},{"day":"Day 2, n = 83","length":6.6,"prop":0.1446},{"day":"Day 2, n = 83","length":6.8,"prop":0.0843},{"day":"Day 2, n = 83","length":7,"prop":0.1205},{"day":"Day 2, n = 83","length":7.2,"prop":0.0482},{"day":"Day 2, n = 83","length":7.4,"prop":0.0241},{"day":"Day 2, n = 83","length":7.6,"prop":0},{"day":"Day 2, n = 83","length":7.8,"prop":0},{"day":"Day 2, n = 83","length":8,"prop":0},{"day":"Day 2, n = 83","length":8.2,"prop":0},{"day":"Day 2, n = 83","length":8.4,"prop":0},{"day":"Day 2, n = 83","length":8.6,"prop":0.012},{"day":"Day 2, n = 83","length":8.8,"prop":0.012},{"day":"Day 2, n = 83","length":9,"prop":0},{"day":"Day 2, n = 83","length":9.2,"prop":0},{"day":"Day 2, n = 83","length":9.4,"prop":0},{"day":"Day 2, n = 83","length":9.6,"prop":0},{"day":"Day 2, n = 83","length":9.8,"prop":0},{"day":"Day 2, n = 83","length":10,"prop":0},
{"day":"Day 3, n = 48","length":2.4,"prop":0},{"day":"Day 3, n = 48","length":2.6,"prop":0},{"day":"Day 3, n = 48","length":2.8,"prop":0},{"day":"Day 3, n = 48","length":3,"prop":0},{"day":"Day 3, n = 48","length":3.2,"prop":0},{"day":"Day 3, n = 48","length":3.4,"prop":0},{"day":"Day 3, n = 48","length":3.6,"prop":0},{"day":"Day 3, n = 48","length":3.8,"prop":0},{"day":"Day 3, n = 48","length":4,"prop":0},{"day":"Day 3, n = 48","length":4.2,"prop":0},{"day":"Day 3, n = 48","length":4.4,"prop":0},{"day":"Day 3, n = 48","length":4.6,"prop":0},{"day":"Day 3, n = 48","length":4.8,"prop":0},{"day":"Day 3, n = 48","length":5,"prop":0},{"day":"Day 3, n = 48","length":5.2,"prop":0},{"day":"Day 3, n = 48","length":5.4,"prop":0},{"day":"Day 3, n = 48","length":5.6,"prop":0.0208},{"day":"Day 3, n = 48","length":5.8,"prop":0.0208},{"day":"Day 3, n = 48","length":6,"prop":0.0625},{"day":"Day 3, n = 48","length":6.2,"prop":0.0625},{"day":"Day 3, n = 48","length":6.4,"prop":0},{"day":"Day 3, n = 48","length":6.6,"prop":0.0417},{"day":"Day 3, n = 48","length":6.8,"prop":0.1667},{"day":"Day 3, n = 48","length":7,"prop":0.0625},{"day":"Day 3, n = 48","length":7.2,"prop":0.1875},{"day":"Day 3, n = 48","length":7.4,"prop":0.125},{"day":"Day 3, n = 48","length":7.6,"prop":0.125},{"day":"Day 3, n = 48","length":7.8,"prop":0.0625},{"day":"Day 3, n = 48","length":8,"prop":0},{"day":"Day 3, n = 48","length":8.2,"prop":0.0208},{"day":"Day 3, n = 48","length":8.4,"prop":0},{"day":"Day 3, n = 48","length":8.6,"prop":0},{"day":"Day 3, n = 48","length":8.8,"prop":0},{"day":"Day 3, n = 48","length":9,"prop":0},{"day":"Day 3, n = 48","length":9.2,"prop":0},{"day":"Day 3, n = 48","length":9.4,"prop":0},{"day":"Day 3, n = 48","length":9.6,"prop":0},{"day":"Day 3, n = 48","length":9.8,"prop":0},{"day":"Day 3, n = 48","length":10,"prop":0}
]
},
"resolve":{"scale":{"x":"independent","y":"independent","shape":"independent","fill":"independent","size":"independent","strokeDash":"independent"},"axis":{"x":"independent","y":"independent"},"legend":{"shape":"independent","fill":"independent"}},
"spacing":25,
"hconcat":[
{"spacing":38,
 "resolve":{"scale":{"x":"independent","y":"independent","shape":"independent","fill":"independent","size":"independent","strokeDash":"independent"},"axis":{"x":"independent","y":"independent"},"legend":{"shape":"independent","fill":"independent"}},
 "vconcat":[
 {"width":592,"height":229,"data":{"name":"patch4"},
  "resolve":{"scale":{"shape":"independent","fill":"independent","size":"independent","strokeDash":"independent"},"axis":{"x":"independent"}},
  "layer":[
   {"mark":{"type":"line","color":"#231f20","strokeWidth":1},
    "encoding":{
     "x":{"field":"length","type":"quantitative","scale":{"domain":[2.3,10.1],"nice":false,"zero":false},"axis":{"orient":"bottom","title":null,"values":[2.4,3.2,4,4.8,5.6,6.4,7.2,8,8.8,9.6],"format":".1f","ticks":false}},
     "y":{"field":"prop","type":"quantitative","scale":{"domain":[0,0.4],"nice":false},"axis":{"title":"Proportion","values":[0,0.1,0.2,0.3,0.4],"format":".1f"}},
     "strokeDash":{"field":"day","type":"nominal","scale":{"range":[[1,0],[1,0],[1,0],[1,0],[1,0],[1,0],[3,3],[1,0]]},"legend":null}
    }},
   {"mark":{"type":"point","filled":true,"stroke":"#231f20","strokeWidth":1,"opacity":1},
    "encoding":{
     "x":{"field":"length","type":"quantitative","axis":{"orient":"bottom","title":null,"values":[2.7,3.1,3.5,3.9,4.3,4.7,5.1,5.5,5.9,6.3,6.7,7.1,7.5,7.9,8.3,8.7,9.1,9.5,9.9],"labels":false,"domain":false,"ticks":true}},
     "y":{"field":"prop","type":"quantitative"},
     "shape":{"field":"day","type":"nominal","scale":{"range":["square","square","circle","circle","triangle-up","triangle-up","M-1,0H1M0,-1V1","M-1,-1H1V1H-1ZM-0.3,-0.75V-0.3H-0.75V0.3H-0.3V0.75H0.3V0.3H0.75V-0.3H0.3V-0.75Z"]},"legend":null},
     "fill":{"field":"day","type":"nominal","scale":{"range":["white","#231f20","white","#231f20","white","#231f20","transparent","#231f20"]},"legend":null},
     "size":{"field":"day","type":"nominal","scale":{"range":[26,26,62,62,82,82,64,56]},"legend":null}
    }},
   {"mark":{"type":"point","filled":true,"stroke":"#231f20","strokeWidth":1,"opacity":0},
    "encoding":{
     "x":{"field":"length","type":"quantitative","axis":null},
     "y":{"field":"prop","type":"quantitative"},
     "shape":{"field":"day","type":"nominal","scale":{"domain":["Day 0, n = 374","Day 1, n = 340","Day 2, n = 503","Day 3, n = 662","Day 4, n = 316","Day 5, n = 592","Day 6, n = 88","Day 7, n = 264"],"range":["M-1,0H-0.133M0.133,0H1M-0.133,-0.133H0.133V0.133H-0.133Z","M-1,0H-0.133M0.133,0H1M-0.133,-0.133H0.133V0.133H-0.133Z","M-1,0H-0.206M0.206,0H1M-0.206,0C-0.206,-0.1137,-0.1137,-0.206,0,-0.206C0.1137,-0.206,0.206,-0.1137,0.206,0C0.206,0.1137,0.1137,0.206,0,0.206C-0.1137,0.206,-0.206,0.1137,-0.206,0Z","M-1,0H-0.206M0.206,0H1M-0.206,0C-0.206,-0.1137,-0.1137,-0.206,0,-0.206C0.1137,-0.206,0.206,-0.1137,0.206,0C0.206,0.1137,0.1137,0.206,0,0.206C-0.1137,0.206,-0.206,0.1137,-0.206,0Z","M-1,0H-0.143M0.143,0H1M0,-0.24L0.25,0.18L-0.25,0.18Z","M-1,0H-0.143M0.143,0H1M0,-0.24L0.25,0.18L-0.25,0.18Z","M-1,0H-0.45M0.45,0H1M-0.22,0H0.22M0,-0.22V0.22","M-1,0H-0.21M0.21,0H1M-0.21,-0.21H0.21V0.21H-0.21ZM-0.06,-0.16V-0.06H-0.16V0.06H-0.06V0.16H0.06V0.06H0.16V-0.06H0.06V-0.16Z"]},
      "legend":{"title":null,"orient":"none","legendX":400,"legendY":-8,"clipHeight":24.4,"symbolSize":1296,"symbolOffset":-2,"labelOffset":1,"symbolOpacity":1}},
     "fill":{"field":"day","type":"nominal","scale":{"domain":["Day 0, n = 374","Day 1, n = 340","Day 2, n = 503","Day 3, n = 662","Day 4, n = 316","Day 5, n = 592","Day 6, n = 88","Day 7, n = 264"],"range":["white","#231f20","white","#231f20","white","#231f20","transparent","#231f20"]},
      "legend":{"title":null,"orient":"none","legendX":400,"legendY":-8,"clipHeight":24.4,"symbolSize":1296,"symbolOffset":-2,"labelOffset":1,"symbolOpacity":1}}
    }},
   {"data":{"values":[{}]},"mark":{"type":"text","fontSize":32,"align":"center","baseline":"middle"},"encoding":{"x":{"datum":2.65,"axis":null},"y":{"datum":0.37},"text":{"value":"A"}}},
   {"data":{"values":[{}]},"mark":{"type":"text","fontSize":25.5,"align":"center","baseline":"middle"},"encoding":{"x":{"datum":5.86,"axis":null},"y":{"datum":0.384},"text":{"value":"Patch 4"}}}
  ]},
 {"width":592,"height":229,"data":{"name":"patch7"},
  "resolve":{"scale":{"shape":"independent","fill":"independent","size":"independent"},"axis":{"x":"independent"}},
  "layer":[
   {"mark":{"type":"line","color":"#231f20","strokeWidth":1},
    "encoding":{
     "x":{"field":"length","type":"quantitative","scale":{"domain":[2.3,10.1],"nice":false,"zero":false},"axis":{"orient":"bottom","title":"Standard length (mm)","titleX":274,"values":[2.4,3.2,4,4.8,5.6,6.4,7.2,8,8.8,9.6],"format":".1f","ticks":false}},
     "y":{"field":"prop","type":"quantitative","scale":{"domain":[0,0.4],"nice":false},"axis":{"title":"Proportion","values":[0,0.1,0.2,0.3,0.4],"format":".1f"}},
     "detail":{"field":"day","type":"nominal"}
    }},
   {"mark":{"type":"point","filled":true,"stroke":"#231f20","strokeWidth":1,"opacity":1},
    "encoding":{
     "x":{"field":"length","type":"quantitative","axis":{"orient":"bottom","title":null,"values":[2.7,3.1,3.5,3.9,4.3,4.7,5.1,5.5,5.9,6.3,6.7,7.1,7.5,7.9,8.3,8.7,9.1,9.5,9.9],"labels":false,"domain":false,"ticks":true}},
     "y":{"field":"prop","type":"quantitative"},
     "shape":{"field":"day","type":"nominal","scale":{"range":["square","square","circle"]},"legend":null},
     "fill":{"field":"day","type":"nominal","scale":{"range":["white","#231f20","white"]},"legend":null},
     "size":{"field":"day","type":"nominal","scale":{"range":[26,26,62]},"legend":null}
    }},
   {"mark":{"type":"point","filled":true,"stroke":"#231f20","strokeWidth":1,"opacity":0},
    "encoding":{
     "x":{"field":"length","type":"quantitative","axis":null},
     "y":{"field":"prop","type":"quantitative"},
     "shape":{"field":"day","type":"nominal","scale":{"domain":["Day 0, n = 200","Day 1, n = 599","Day 2, n = 646"],"range":["M-1,0H-0.166M0.166,0H1M-0.166,-0.166H0.166V0.166H-0.166Z","M-1,0H-0.166M0.166,0H1M-0.166,-0.166H0.166V0.166H-0.166Z","M-1,0H-0.255M0.255,0H1M-0.255,0C-0.255,-0.1408,-0.1408,-0.255,0,-0.255C0.1408,-0.255,0.255,-0.1408,0.255,0C0.255,0.1408,0.1408,0.255,0,0.255C-0.1408,0.255,-0.255,0.1408,-0.255,0Z"]},
      "legend":{"title":null,"orient":"none","legendX":400,"legendY":1,"clipHeight":30.3,"symbolSize":841,"symbolOffset":3,"labelOffset":8,"symbolOpacity":1}},
     "fill":{"field":"day","type":"nominal","scale":{"domain":["Day 0, n = 200","Day 1, n = 599","Day 2, n = 646"],"range":["white","#231f20","white"]},
      "legend":{"title":null,"orient":"none","legendX":400,"legendY":1,"clipHeight":30.3,"symbolSize":841,"symbolOffset":3,"labelOffset":8,"symbolOpacity":1}}
    }},
   {"data":{"values":[{}]},"mark":{"type":"text","fontSize":32,"align":"center","baseline":"middle"},"encoding":{"x":{"datum":2.66,"axis":null},"y":{"datum":0.3726},"text":{"value":"B"}}},
   {"data":{"values":[{}]},"mark":{"type":"text","fontSize":25.5,"align":"center","baseline":"middle"},"encoding":{"x":{"datum":5.86,"axis":null},"y":{"datum":0.3866},"text":{"value":"Patch 7"}}}
  ]}
 ]},
{"spacing":29,
 "resolve":{"scale":{"x":"independent","y":"independent","shape":"independent","fill":"independent","size":"independent","strokeDash":"independent"},"axis":{"x":"independent","y":"independent"},"legend":{"shape":"independent","fill":"independent"}},
 "vconcat":[
 {"width":593,"height":229,"data":{"name":"patch8"},
  "resolve":{"scale":{"shape":"independent","fill":"independent","size":"independent"},"axis":{"x":"independent"}},
  "layer":[
   {"mark":{"type":"line","color":"#231f20","strokeWidth":1},
    "encoding":{
     "x":{"field":"length","type":"quantitative","scale":{"domain":[2.3,10.1],"nice":false,"zero":false},"axis":{"orient":"bottom","title":null,"values":[2.4,3.2,4,4.8,5.6,6.4,7.2,8,8.8,9.6],"format":".1f","ticks":false}},
     "y":{"field":"prop","type":"quantitative","scale":{"domain":[0,0.2],"nice":false},"axis":{"title":null,"values":[0,0.1,0.2],"format":".1f"}},
     "detail":{"field":"day","type":"nominal"}
    }},
   {"mark":{"type":"point","filled":true,"stroke":"#231f20","strokeWidth":1,"opacity":1},
    "encoding":{
     "x":{"field":"length","type":"quantitative","axis":{"orient":"bottom","title":null,"values":[2.7,3.1,3.5,3.9,4.3,4.7,5.1,5.5,5.9,6.3,6.7,7.1,7.5,7.9,8.3,8.7,9.1,9.5,9.9],"labels":false,"domain":false,"ticks":true}},
     "y":{"field":"prop","type":"quantitative"},
     "shape":{"field":"day","type":"nominal","scale":{"range":["square","square"]},"legend":null},
     "fill":{"field":"day","type":"nominal","scale":{"range":["white","#231f20"]},"legend":null},
     "size":{"field":"day","type":"nominal","scale":{"range":[26,26]},"legend":null}
    }},
   {"mark":{"type":"point","filled":true,"stroke":"#231f20","strokeWidth":1,"opacity":0},
    "encoding":{
     "x":{"field":"length","type":"quantitative","axis":null},
     "y":{"field":"prop","type":"quantitative"},
     "shape":{"field":"day","type":"nominal","scale":{"domain":["Day 0, n = 192","Day 1, n = 288"],"range":["M-1,0H-0.166M0.166,0H1M-0.166,-0.166H0.166V0.166H-0.166Z","M-1,0H-0.166M0.166,0H1M-0.166,-0.166H0.166V0.166H-0.166Z"]},
      "legend":{"title":null,"orient":"none","legendX":72.6,"legendY":-8,"clipHeight":28.3,"symbolSize":841,"symbolOffset":2,"labelOffset":6,"symbolOpacity":1}},
     "fill":{"field":"day","type":"nominal","scale":{"domain":["Day 0, n = 192","Day 1, n = 288"],"range":["white","#231f20"]},
      "legend":{"title":null,"orient":"none","legendX":72.6,"legendY":-8,"clipHeight":28.3,"symbolSize":841,"symbolOffset":2,"labelOffset":6,"symbolOpacity":1}}
    }},
   {"data":{"values":[{}]},"mark":{"type":"text","fontSize":32,"align":"center","baseline":"middle"},"encoding":{"x":{"datum":2.672,"axis":null},"y":{"datum":0.185},"text":{"value":"C"}}},
   {"data":{"values":[{}]},"mark":{"type":"text","fontSize":25.5,"align":"center","baseline":"middle"},"encoding":{"x":{"datum":6.567,"axis":null},"y":{"datum":0.1936},"text":{"value":"Patch 8"}}}
  ]},
 {"width":603,"height":238,"data":{"name":"patch9"},
  "resolve":{"scale":{"shape":"independent","fill":"independent","size":"independent"},"axis":{"x":"independent"}},
  "layer":[
   {"mark":{"type":"line","color":"#231f20","strokeWidth":1},
    "encoding":{
     "x":{"field":"length","type":"quantitative","scale":{"domain":[2.3,10.1],"nice":false,"zero":false},"axis":{"orient":"bottom","title":"Standard length (mm)","titleX":279,"values":[2.4,3.2,4,4.8,5.6,6.4,7.2,8,8.8,9.6],"format":".1f","ticks":false}},
     "y":{"field":"prop","type":"quantitative","scale":{"domain":[0,0.3],"nice":false},"axis":{"title":null,"values":[0,0.1,0.2,0.3],"format":".1f"}},
     "detail":{"field":"day","type":"nominal"}
    }},
   {"mark":{"type":"point","filled":true,"stroke":"#231f20","strokeWidth":1,"opacity":1},
    "encoding":{
     "x":{"field":"length","type":"quantitative","axis":{"orient":"bottom","title":null,"values":[2.7,3.1,3.5,3.9,4.3,4.7,5.1,5.5,5.9,6.3,6.7,7.1,7.5,7.9,8.3,8.7,9.1,9.5,9.9],"labels":false,"domain":false,"ticks":true}},
     "y":{"field":"prop","type":"quantitative"},
     "shape":{"field":"day","type":"nominal","scale":{"range":["square","circle","circle"]},"legend":null},
     "fill":{"field":"day","type":"nominal","scale":{"range":["#231f20","white","#231f20"]},"legend":null},
     "size":{"field":"day","type":"nominal","scale":{"range":[26,62,62]},"legend":null}
    }},
   {"mark":{"type":"point","filled":true,"stroke":"#231f20","strokeWidth":1,"opacity":0},
    "encoding":{
     "x":{"field":"length","type":"quantitative","axis":null},
     "y":{"field":"prop","type":"quantitative"},
     "shape":{"field":"day","type":"nominal","scale":{"domain":["Day 1, n = 21","Day 2, n = 83","Day 3, n = 48"],"range":["M-1,0H-0.166M0.166,0H1M-0.166,-0.166H0.166V0.166H-0.166Z","M-1,0H-0.255M0.255,0H1M-0.255,0C-0.255,-0.1408,-0.1408,-0.255,0,-0.255C0.1408,-0.255,0.255,-0.1408,0.255,0C0.255,0.1408,0.1408,0.255,0,0.255C-0.1408,0.255,-0.255,0.1408,-0.255,0Z","M-1,0H-0.255M0.255,0H1M-0.255,0C-0.255,-0.1408,-0.1408,-0.255,0,-0.255C0.1408,-0.255,0.255,-0.1408,0.255,0C0.255,0.1408,0.1408,0.255,0,0.255C-0.1408,0.255,-0.255,0.1408,-0.255,0Z"]},
      "legend":{"title":null,"orient":"none","legendX":422.6,"legendY":10,"clipHeight":30.3,"symbolSize":841,"symbolOffset":7,"labelOffset":11,"symbolOpacity":1}},
     "fill":{"field":"day","type":"nominal","scale":{"domain":["Day 1, n = 21","Day 2, n = 83","Day 3, n = 48"],"range":["#231f20","white","#231f20"]},
      "legend":{"title":null,"orient":"none","legendX":422.6,"legendY":10,"clipHeight":30.3,"symbolSize":841,"symbolOffset":7,"labelOffset":11,"symbolOpacity":1}}
    }},
   {"data":{"values":[{}]},"mark":{"type":"text","fontSize":32,"align":"center","baseline":"middle"},"encoding":{"x":{"datum":2.674,"axis":null},"y":{"datum":0.28},"text":{"value":"D"}}},
   {"data":{"values":[{}]},"mark":{"type":"text","fontSize":25.5,"align":"center","baseline":"middle"},"encoding":{"x":{"datum":5.085,"axis":null},"y":{"datum":0.2786},"text":{"value":"Patch 9"}}}
  ]}
 ]}
]
}
